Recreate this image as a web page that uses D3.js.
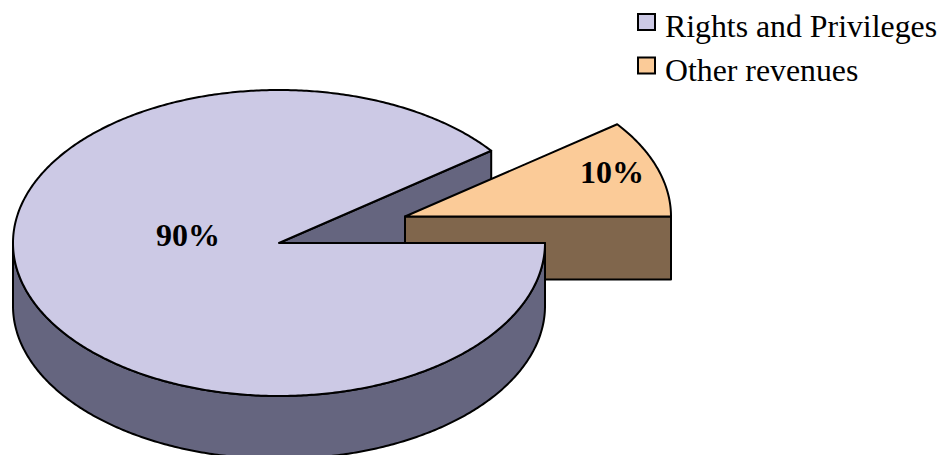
<!DOCTYPE html>
<html>
<head>
<meta charset="utf-8">
<script src="https://cdnjs.cloudflare.com/ajax/libs/d3/7.8.5/d3.min.js"></script>
<style>
  html, body { margin: 0; padding: 0; background: #fff; }
  text { font-family: "Liberation Serif", serif; fill: #000; }
</style>
</head>
<body>
<div id="my_dataviz"></div>
<script>
// data
var categories = ["Rights and Privileges", "Other revenues"];
var shares = [89.7, 10.3];
var shareLabels = ["90%", "10%"];

var width = 941, height = 455;
var rx = 266, ry = 153, depth = 63;
var topColors = ["#ccc9e5", "#fbcb98"];
var sideColors = ["#65657f", "#80664c"];

var svg = d3.select("#my_dataviz")
  .append("svg")
    .attr("width", width)
    .attr("height", height)
    .style("display", "block");

// each slice gets its own projection, the small one is pulled out
function projection(cx, cy) {
  return {
    x: d3.scaleLinear().domain([-1, 1]).range([cx - rx, cx + rx]),
    y: d3.scaleLinear().domain([-1, 1]).range([cy - ry, cy + ry])
  };
}
var proj = [projection(279, 243), projection(405, 216.5)];

// start at 3 o'clock and go counter clockwise, small slice first
var pie = d3.pie().sortValues(d3.ascending)
  .startAngle(Math.PI / 2)
  .endAngle(Math.PI / 2 - 2 * Math.PI);
var arcs = pie(shares);

function rimPoints(a0, a1, p, dy) {
  var n = Math.ceil(Math.abs(a1 - a0) / 0.01);
  return d3.range(n + 1).map(function(i) {
    var a = a0 + (a1 - a0) * i / n;
    return [p.x(Math.sin(a)), p.y(-Math.cos(a)) + dy];
  });
}

var line = d3.line();
function draw(points, fill) {
  svg.append("path")
    .attr("d", line(points) + "Z")
    .attr("fill", fill)
    .attr("stroke", "#000")
    .attr("stroke-width", 2)
    .attr("stroke-linejoin", "round");
}
function centre(p, dy) { return [p.x(0), p.y(0) + dy]; }

var big = arcs[0], small = arcs[1];
var p0 = proj[0], p1 = proj[1];

// inner face of the big slice
var bigEdge = rimPoints(big.startAngle, big.startAngle + 0.01, p0, 0)[0];
draw([centre(p0, 0), bigEdge, [bigEdge[0], bigEdge[1] + depth], centre(p0, depth)], sideColors[0]);

// small slice, cut face then top
var smallEdge = rimPoints(small.startAngle, small.startAngle + 0.01, p1, 0)[0];
draw([centre(p1, 0), smallEdge, [smallEdge[0], smallEdge[1] + depth], centre(p1, depth)], sideColors[1]);
draw([centre(p1, 0)].concat(rimPoints(small.startAngle, small.endAngle, p1, 0)), topColors[1]);

// big slice, outer wall (front half of the rim) then top
var front = rimPoints(-Math.PI / 2, -3 * Math.PI / 2, p0, 0);
var frontLow = rimPoints(-3 * Math.PI / 2, -Math.PI / 2, p0, depth);
draw(front.concat(frontLow), sideColors[0]);
draw([centre(p0, 0)].concat(rimPoints(big.startAngle, big.endAngle, p0, 0)), topColors[0]);

// slice labels
var labelPos = [[188, 246], [612, 183]];
svg.selectAll(".pct")
  .data(shareLabels)
  .enter().append("text")
    .attr("class", "pct")
    .attr("x", function(d, i) { return labelPos[i][0]; })
    .attr("y", function(d, i) { return labelPos[i][1]; })
    .attr("text-anchor", "middle")
    .attr("font-weight", "bold")
    .attr("font-size", 32)
    .text(function(d) { return d; });

// legend
var legend = svg.selectAll(".legend")
  .data(categories)
  .enter().append("g")
    .attr("class", "legend")
    .attr("transform", function(d, i) { return "translate(638," + (14 + i * 43.5) + ")"; });
legend.append("rect")
  .attr("width", 17)
  .attr("height", 16)
  .attr("fill", function(d, i) { return topColors[i]; })
  .attr("stroke", "#000")
  .attr("stroke-width", 2);
legend.append("text")
  .attr("x", 27)
  .attr("y", 23)
  .attr("font-size", 31.8)
  .text(function(d) { return d; });
</script>
</body>
</html>
